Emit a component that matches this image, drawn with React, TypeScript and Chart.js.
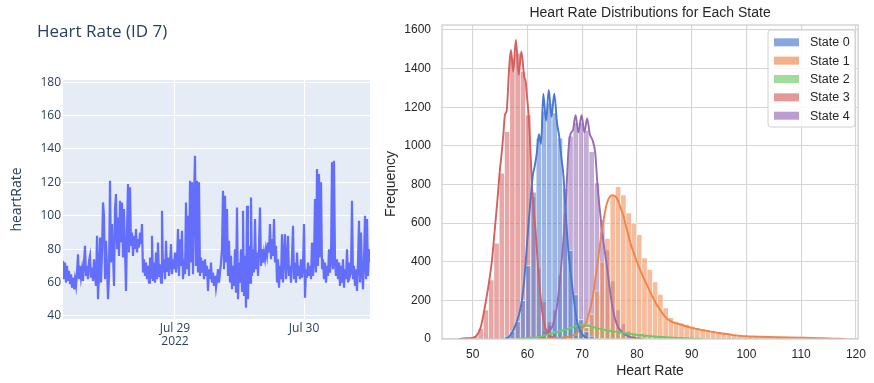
import React, { useEffect, useRef } from "react";
import { Chart, registerables } from "chart.js";
Chart.register(...registerables);

// ---------------- Left panel: heart rate time series ----------------
const hrTitle = "Heart Rate (ID 7)";
const hrAxisTitle = "heartRate";
const hrStartHour = 3.17; // hours after 2022-07-28 00:00
const hrStepMinutes = 11.16;
const heartRate = [
  73, 62, 72, 60, 70, 61, 67, 59, 65, 57,
  63, 56, 62, 58, 66, 77, 62, 70, 63, 68,
  61, 72, 82, 64, 70, 62, 73, 76, 63, 69,
  61, 74, 64, 58, 88, 50, 66, 87, 60, 78,
  108, 100, 62, 85, 70, 50, 64, 121, 72, 95,
  78, 58, 104, 113, 80, 99, 76, 109, 84, 108,
  75, 104, 80, 55, 90, 119, 78, 117, 82, 90,
  76, 88, 80, 92, 78, 86, 81, 90, 83, 95,
  66, 74, 64, 72, 62, 70, 60, 75, 63, 88,
  61, 72, 60, 78, 62, 84, 64, 71, 60, 103,
  66, 74, 62, 85, 67, 75, 64, 72, 83, 65,
  74, 68, 78, 66, 72, 92, 64, 86, 70, 91,
  62, 74, 65, 108, 68, 100, 64, 121, 72, 120,
  65, 110, 136, 70, 121, 66, 120, 64, 75, 66,
  73, 62, 74, 64, 70, 55, 68, 62, 72, 60,
  66, 58, 64, 57, 62, 68, 60, 66, 72, 80,
  115, 68, 112, 72, 104, 64, 85, 60, 76, 56,
  70, 58, 80, 54, 105, 50, 72, 60, 80, 55,
  103, 52, 76, 45, 106, 50, 82, 60, 111, 64,
  80, 66, 98, 68, 78, 64, 82, 105, 70, 80,
  72, 78, 74, 80, 76, 84, 78, 95, 74, 86,
  76, 98, 72, 82, 60, 74, 57, 70, 62, 89,
  60, 76, 89, 62, 72, 88, 64, 70, 60, 75,
  94, 62, 72, 60, 78, 64, 70, 62, 74, 63,
  70, 95, 51, 68, 63, 72, 64, 70, 62, 84,
  64, 72, 110, 66, 128, 70, 125, 75, 120, 68,
  74, 62, 72, 60, 70, 64, 80, 66, 74, 132,
  68, 133, 72, 64, 74, 62, 72, 58, 70, 60,
  74, 57, 68, 62, 80, 60, 72, 64, 66, 109,
  62, 70, 58, 68, 55, 72, 97, 60, 90, 66,
  56, 74, 100, 62, 98, 64, 80, 72,
];
const hrDayTickHours = [24, 48];
const hrDayTickLabels = [["Jul 29", "2022"], ["Jul 30"]];
const hrYTicks = [40, 60, 80, 100, 120, 140, 160, 180];
const hrYRange = [38.2, 181.3];

// ---------------- Right panel: histograms + KDE per state ----------------
const histTitle = "Heart Rate Distributions for Each State";
const histXLabel = "Heart Rate";
const histYLabel = "Frequency";
const stateNames = ["State 0", "State 1", "State 2", "State 3", "State 4"];
const stateColors = ["72,120,208", "238,133,74", "106,204,100", "214,95,95", "149,108,180"];
const histXTicks = [50, 60, 70, 80, 90, 100, 110, 120];
const histYTicks = [0, 200, 400, 600, 800, 1000, 1200, 1400, 1600];
const histXRange = [44.4, 120.4];
const histYMax = 1626;
const binStart = 47.125;
const binWidth = 0.965;

const state0FirstBin = 8;
const state0Counts = [5, 15, 40, 90, 200, 380, 760, 1040, 1180, 1220, 1170, 1040, 780, 460, 230, 100, 40, 15];
const state1FirstBin = 17;
const state1Counts = [
  3, 5, 7, 10, 14, 20, 30, 60, 130, 250, 400, 520, 746, 789, 746, 653, 600, 540, 420, 360,
  295, 230, 160, 110, 92, 82, 75, 66, 58, 53, 48, 43, 38, 33, 28, 24, 20, 16, 14, 12,
  11, 10, 9, 8, 8, 7, 7, 6, 6, 5, 5, 4, 4, 3, 3, 2,
];
const state2FirstBin = 13;
const state2Counts = [5, 10, 15, 22, 30, 38, 45, 52, 60, 68, 74, 72, 66, 60, 54, 48, 43, 39, 34, 30, 26, 22, 19, 16, 13, 11, 9, 7, 5, 4, 3, 2];
const state3FirstBin = 0;
const state3Counts = [1, 3, 6, 15, 55, 150, 306, 496, 858, 1074, 1454, 1480, 1385, 1160, 737, 366, 193, 90, 40, 15, 6];
const state4FirstBin = 14;
const state4Counts = [8, 20, 40, 70, 150, 330, 650, 1050, 1120, 1120, 1080, 970, 808, 616, 460, 300, 150, 80, 40, 20, 8];

const kde0X = [56, 56.5, 57, 57.5, 58, 58.5, 59, 59.5, 60, 60.5, 61, 61.3, 61.7, 62.1, 62.5, 62.9, 63.4, 63.9, 64.4, 64.9, 65.4, 65.8, 66.2, 66.6, 67, 67.5, 68, 68.5, 69, 69.5, 70, 70.5, 71];
const kde0Y = [0, 8, 25, 50, 85, 130, 200, 330, 520, 700, 850, 890, 960, 1060, 1010, 1270, 1130, 1290, 1150, 1270, 1120, 1050, 940, 840, 650, 450, 320, 200, 100, 50, 25, 10, 0];
const kde1X = [62, 64, 66, 67, 68, 69, 69.5, 70, 70.5, 71, 71.5, 72, 72.5, 73, 73.5, 74, 74.5, 75, 75.5, 76, 76.5, 77, 77.5, 78, 78.5, 79, 79.5, 80, 81, 82, 83, 84, 85, 86, 87, 88, 89, 90, 91, 92, 93, 94, 95, 96, 97, 98, 99, 100, 102, 104, 106, 108, 110, 112, 114, 116, 118];
const kde1Y = [0, 3, 6, 10, 15, 30, 45, 55, 70, 110, 160, 230, 330, 430, 540, 630, 700, 735, 745, 740, 720, 680, 640, 585, 530, 480, 440, 400, 330, 270, 210, 160, 120, 95, 82, 75, 66, 58, 52, 46, 41, 36, 31, 27, 23, 19, 16, 14, 12, 10, 9, 8, 7, 6, 4, 2, 0];
const kde2X = [58, 60, 62, 64, 66, 68, 69, 70, 71, 72, 73, 74, 76, 78, 80, 82, 84, 86, 88, 90, 92];
const kde2Y = [0, 5, 10, 25, 40, 58, 68, 75, 70, 62, 55, 48, 38, 30, 22, 16, 12, 8, 5, 2, 0];
const kde3X = [47.5, 48, 49, 50, 50.5, 51, 51.5, 52, 52.4, 53, 53.5, 53.9, 54.5, 55.0, 55.15, 55.6, 55.9, 56.2, 56.7, 57.0, 57.4, 57.9, 58.4, 58.9, 59.4, 59.7, 59.9, 60.3, 60.9, 61.5, 62.1, 62.7, 63.3, 64, 65, 66, 67];
const kde3Y = [0, 2, 4, 6, 12, 30, 64, 130, 193, 297, 400, 522, 712, 884, 920, 1057, 1161, 1180, 1420, 1497, 1385, 1549, 1368, 1489, 1360, 1330, 1264, 1126, 763, 556, 314, 142, 55, 20, 6, 2, 0];
const kde4X = [62, 63, 64, 64.5, 65, 65.5, 66, 66.5, 67, 67.5, 67.9, 68.3, 68.8, 69.3, 69.9, 70.4, 70.9, 71.4, 71.9, 72.4, 72.8, 73.3, 73.9, 74.5, 75, 75.5, 76, 76.5, 77, 77.5, 78, 79, 80, 81];
const kde4Y = [0, 15, 45, 62, 110, 190, 320, 490, 690, 980, 1064, 1080, 1159, 1070, 1159, 1070, 1142, 1060, 1029, 960, 796, 650, 500, 380, 270, 170, 105, 65, 45, 30, 20, 8, 3, 0];

const stateBins = [
  [state0FirstBin, state0Counts],
  [state1FirstBin, state1Counts],
  [state2FirstBin, state2Counts],
  [state3FirstBin, state3Counts],
  [state4FirstBin, state4Counts],
] as [number, number[]][];
const stateKde = [
  [kde0X, kde0Y],
  [kde1X, kde1Y],
  [kde2X, kde2Y],
  [kde3X, kde3Y],
  [kde4X, kde4Y],
] as [number[], number[]][];

// ---------------- styles ----------------
const PLOTLY_FONT = "'Open Sans', Verdana, Arial, sans-serif";
const PLOTLY_TEXT = "#2a3f5f";
const SNS_FONT = "'Liberation Sans', Arial, sans-serif";
const SNS_TEXT = "#262626";
const BAR_ALPHA = 0.55;

function HeartRateChart() {
  const ref = useRef<HTMLCanvasElement | null>(null);
  useEffect(() => {
    const data = heartRate.map((v, i) => ({ x: hrStartHour + (i * hrStepMinutes) / 60, y: v }));
    const xMax = hrStartHour + ((heartRate.length - 1) * hrStepMinutes) / 60;
    const decor = {
      id: "plotlyDecor",
      beforeDraw(chart: any) {
        const { ctx, chartArea: a } = chart;
        ctx.save();
        ctx.fillStyle = "#E5ECF6";
        ctx.fillRect(a.left, a.top, a.right - a.left, a.bottom - a.top);
        ctx.restore();
      },
      afterDraw(chart: any) {
        const { ctx, chartArea: a } = chart;
        ctx.save();
        ctx.fillStyle = PLOTLY_TEXT;
        ctx.font = `17px ${PLOTLY_FONT}`;
        ctx.textAlign = "left";
        ctx.textBaseline = "alphabetic";
        ctx.fillText(hrTitle, 37, 37);
        ctx.font = `14px ${PLOTLY_FONT}`;
        ctx.translate(17, (a.top + a.bottom) / 2);
        ctx.rotate(-Math.PI / 2);
        ctx.textAlign = "center";
        ctx.textBaseline = "middle";
        ctx.fillText(hrAxisTitle, 0, 0);
        ctx.restore();
      },
    };
    const chart = new Chart(ref.current as HTMLCanvasElement, {
      type: "line",
      data: {
        datasets: [
          {
            data,
            borderColor: "#636efa",
            borderWidth: 2.2,
            pointRadius: 0,
            tension: 0,
            fill: false,
          },
        ],
      },
      options: {
        animation: false,
        responsive: false,
        maintainAspectRatio: false,
        layout: { padding: { left: 0, right: 10, top: 80, bottom: 0 } },
        plugins: { legend: { display: false }, tooltip: { enabled: false }, title: { display: false } },
        scales: {
          x: {
            type: "linear",
            min: hrStartHour,
            max: xMax,
            afterBuildTicks: (s: any) => {
              s.ticks = hrDayTickHours.map((v) => ({ value: v }));
            },
            afterFit: (s: any) => {
              s.height = 64;
            },
            ticks: {
              callback: (_v: any, i: number) => hrDayTickLabels[i],
              color: PLOTLY_TEXT,
              font: { family: PLOTLY_FONT, size: 12, lineHeight: 1.1 },
              padding: 3,
              maxRotation: 0,
              autoSkip: false,
            },
            grid: { color: "#ffffff", lineWidth: 1, drawTicks: false },
            border: { display: false },
          },
          y: {
            type: "linear",
            min: hrYRange[0],
            max: hrYRange[1],
            afterBuildTicks: (s: any) => {
              s.ticks = hrYTicks.map((v) => ({ value: v }));
            },
            afterFit: (s: any) => {
              s.width = 63;
            },
            ticks: {
              callback: (v: any) => String(v),
              color: PLOTLY_TEXT,
              font: { family: PLOTLY_FONT, size: 12 },
              padding: 2,
            },
            grid: { color: "#ffffff", lineWidth: 1, drawTicks: false },
            border: { display: false },
          },
        },
      } as any,
      plugins: [decor],
    } as any);
    return () => chart.destroy();
  }, []);
  return (
    <canvas
      ref={ref}
      width={380}
      height={383}
      style={{ position: "absolute", left: 0, top: 0, width: 380, height: 383 }}
    />
  );
}

function StateHistChart() {
  const ref = useRef<HTMLCanvasElement | null>(null);
  useEffect(() => {
    const binCenter = (k: number) => binStart + binWidth * (k + 0.5);
    const barSets = stateBins.map(([first, counts], s) => ({
      type: "bar",
      label: stateNames[s],
      data: counts.map((c, i) => ({ x: binCenter(first + i), y: c })),
      backgroundColor: `rgba(${stateColors[s]},${BAR_ALPHA})`,
      borderColor: "rgba(255,255,255,0.85)",
      borderWidth: 0.6,
      grouped: false,
      barPercentage: 1,
      categoryPercentage: 1,
      order: 10 + s,
    }));
    const lineSets = stateKde.map(([xs, ys], s) => ({
      type: "line",
      label: stateNames[s] + " kde",
      data: xs.map((x, i) => ({ x, y: ys[i] })),
      borderColor: `rgb(${stateColors[s]})`,
      borderWidth: 1.9,
      pointRadius: 0,
      fill: false,
      cubicInterpolationMode: "monotone",
      order: s,
    }));
    const decor = {
      id: "snsDecor",
      afterDraw(chart: any) {
        const { ctx, chartArea: a } = chart;
        ctx.save();
        ctx.strokeStyle = "#cccccc";
        ctx.lineWidth = 1.25;
        ctx.strokeRect(a.left, a.top, a.right - a.left, a.bottom - a.top);
        ctx.fillStyle = SNS_TEXT;
        ctx.font = `14px ${SNS_FONT}`;
        ctx.textAlign = "center";
        ctx.textBaseline = "middle";
        const cx = (a.left + a.right) / 2;
        ctx.fillText(histTitle, cx, 13.5);
        ctx.fillText(histXLabel, cx, 371);
        ctx.save();
        ctx.translate(11, 184);
        ctx.rotate(-Math.PI / 2);
        ctx.fillText(histYLabel, 0, 0);
        ctx.restore();
        // legend
        const lx = 388, ly = 30, lw = 87, lh = 97, r = 3;
        ctx.beginPath();
        ctx.moveTo(lx + r, ly);
        ctx.arcTo(lx + lw, ly, lx + lw, ly + lh, r);
        ctx.arcTo(lx + lw, ly + lh, lx, ly + lh, r);
        ctx.arcTo(lx, ly + lh, lx, ly, r);
        ctx.arcTo(lx, ly, lx + lw, ly, r);
        ctx.closePath();
        ctx.fillStyle = "rgba(255,255,255,0.85)";
        ctx.fill();
        ctx.strokeStyle = "#d0d0d0";
        ctx.lineWidth = 1;
        ctx.stroke();
        ctx.font = `12.5px ${SNS_FONT}`;
        ctx.textAlign = "left";
        ctx.textBaseline = "middle";
        stateNames.forEach((name, i) => {
          const y = 42.3 + i * 18.35;
          ctx.fillStyle = `rgba(${stateColors[i]},${BAR_ALPHA + 0.1})`;
          ctx.fillRect(394, y - 4, 25, 8);
          ctx.fillStyle = SNS_TEXT;
          ctx.fillText(name, 430, y + 0.5);
        });
        ctx.restore();
      },
    };
    const gridColor = "#d6d6d6";
    const chart = new Chart(ref.current as HTMLCanvasElement, {
      type: "bar",
      data: { datasets: [...barSets, ...lineSets] as any },
      options: {
        animation: false,
        responsive: false,
        maintainAspectRatio: false,
        layout: { padding: { left: 0, right: 12, top: 25, bottom: 0 } },
        plugins: { legend: { display: false }, tooltip: { enabled: false }, title: { display: false } },
        scales: {
          x: {
            type: "linear",
            min: histXRange[0],
            max: histXRange[1],
            offset: false,
            afterBuildTicks: (s: any) => {
              s.ticks = histXTicks.map((v) => ({ value: v }));
            },
            afterFit: (s: any) => {
              s.height = 44;
            },
            ticks: {
              callback: (v: any) => String(v),
              color: SNS_TEXT,
              font: { family: SNS_FONT, size: 12 },
              padding: 8,
              maxRotation: 0,
              autoSkip: false,
            },
            grid: { offset: false, color: gridColor, lineWidth: 1.1, drawTicks: false },
            border: { display: false },
          },
          y: {
            type: "linear",
            min: 0,
            max: histYMax,
            afterBuildTicks: (s: any) => {
              s.ticks = histYTicks.map((v) => ({ value: v }));
            },
            afterFit: (s: any) => {
              s.width = 62;
            },
            ticks: {
              callback: (v: any) => String(v),
              color: SNS_TEXT,
              font: { family: SNS_FONT, size: 12 },
              padding: 11,
            },
            grid: { color: gridColor, lineWidth: 1.1, drawTicks: false },
            border: { display: false },
          },
        },
      } as any,
      plugins: [decor],
    } as any);
    return () => chart.destroy();
  }, []);
  return (
    <canvas
      ref={ref}
      width={494}
      height={383}
      style={{ position: "absolute", left: 380, top: 0, width: 494, height: 383 }}
    />
  );
}

export default function App() {
  return (
    <div
      style={{
        position: "absolute",
        left: 0,
        top: 0,
        width: 874,
        height: 383,
        background: "#ffffff",
        overflow: "hidden",
      }}
    >
      <HeartRateChart />
      <StateHistChart />
    </div>
  );
}
